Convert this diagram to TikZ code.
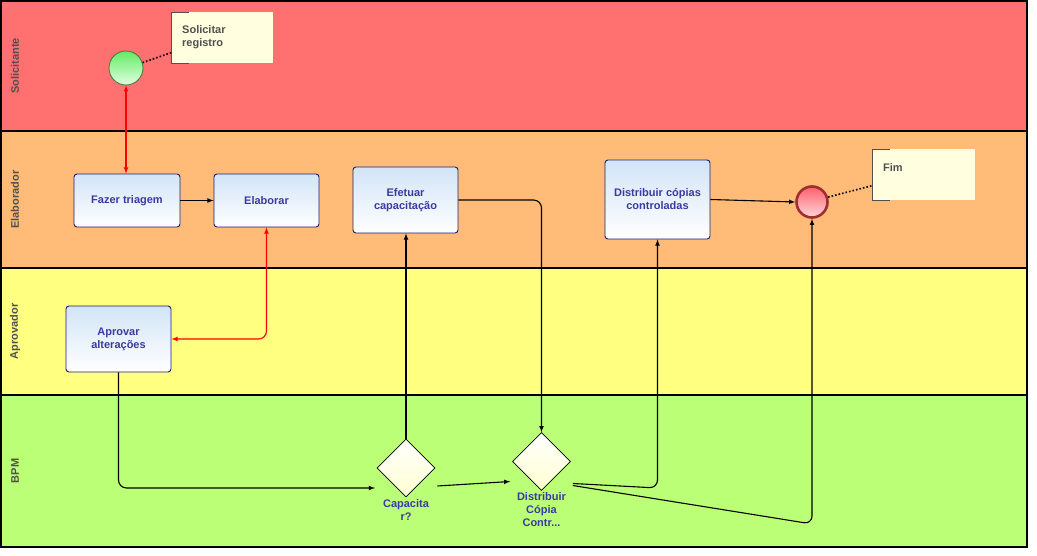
\documentclass[tikz,border=0pt]{standalone}
\usepackage{fontspec}
\setmainfont{Liberation Sans}
\usetikzlibrary{shapes.geometric}
\definecolor{laneRed}{RGB}{255,112,112}
\definecolor{laneOrange}{RGB}{255,187,119}
\definecolor{laneYellow}{RGB}{255,255,128}
\definecolor{laneGreen}{RGB}{187,255,119}
\definecolor{taskTop}{RGB}{210,228,247}
\definecolor{taskLine}{RGB}{30,30,110}
\definecolor{taskText}{RGB}{58,58,160}
\definecolor{noteFill}{RGB}{255,255,223}
\definecolor{greyText}{RGB}{80,80,80}
\definecolor{gateBottom}{RGB}{255,255,208}
\definecolor{startTop}{RGB}{100,235,100}
\definecolor{startLine}{RGB}{60,120,60}
\definecolor{endTop}{RGB}{255,95,110}
\definecolor{endLine}{RGB}{160,48,48}

\tikzset{
	task/.style={draw=taskLine, line width=0.9pt, rounded corners=3pt, top color=taskTop, bottom color=white, text=taskText, align=center, inner sep=0pt},
	gate/.style={diamond, draw=black, line width=0.6pt, top color=white, bottom color=gateBottom, minimum width=58pt, minimum height=58pt, inner sep=0pt},
	gatetext/.style={text=taskText, align=center, inner sep=0pt},
	note/.style={fill=noteFill, inner sep=0pt},
	notetext/.style={text=greyText, align=left, inner sep=0pt, anchor=north west},
	lanetext/.style={text=greyText, rotate=90},
	flow/.style={draw=black, line width=1.1pt, rounded corners=8pt, -latex},
	redflow/.style={draw=red, line width=1.1pt, rounded corners=8pt, latex-latex},
	assoc/.style={draw=black, line width=1.6pt, dotted}
}

\begin{document}
\begin{tikzpicture}[x=1pt, y=-1pt, font=\fontsize{11}{13}\selectfont\bfseries]
			%%%%% START %%%%%
			\useasboundingbox (0,0) rectangle (1037,556);
			
			% lanes
			\fill[laneRed] (1,1) rectangle (1027,131);
			\fill[laneOrange] (1,131) rectangle (1027,268);
			\fill[laneYellow] (1,268) rectangle (1027,395);
			\fill[laneGreen] (1,395) rectangle (1027,547);
			\draw[line width=1.2pt] (1,1) rectangle (1027,547);
			\draw[line width=1.2pt] (1,131) -- (1027,131);
			\draw[line width=1.2pt] (1,268) -- (1027,268);
			\draw[line width=1.2pt] (1,395) -- (1027,395);
			
			\node[lanetext] (lsolic) at (15,66) {Solicitante};
			\node[lanetext] (lelab) at (15,199.5) {Elaborador};
			\node[lanetext] (laprov) at (15,331.5) {Aprovador};
			\node[lanetext] (lbpm) at (15,471) {BPM};
			
			% events
			\node[circle, draw=startLine, line width=0.8pt, top color=startTop, bottom color=green!12, minimum size=34pt, inner sep=0pt] (start) at (126,68) {};
			\node[circle, draw=endLine, line width=2.6pt, top color=endTop, bottom color=red!15, minimum size=31pt, inner sep=0pt] (endev) at (812,202) {};
			
			% notes
			\node[note, minimum width=102pt, minimum height=51pt, anchor=north west] (nsolic) at (171,12) {};
			\draw[greyText, line width=0.8pt] ([shift={(18,0)}]nsolic.north west) -- (nsolic.north west) -- (nsolic.south west) -- ++(18,0);
			\node[notetext] (tsolic) at ([shift={(11,13)}]nsolic.north west) {Solicitar\\registro};
			
			\node[note, minimum width=103pt, minimum height=51pt, anchor=north west] (nfim) at (872,149) {};
			\draw[greyText, line width=0.8pt] ([shift={(18,0)}]nfim.north west) -- (nfim.north west) -- (nfim.south west) -- ++(18,0);
			\node[notetext] (tfim) at ([shift={(11,14)}]nfim.north west) {Fim};
			
			% tasks
			\node[task, minimum width=106pt, minimum height=53pt] (triagem) at (127,200.5) {Fazer triagem};
			\node[task, minimum width=105pt, minimum height=53pt] (elaborar) at (266.5,200.5) {Elaborar};
			\node[task, minimum width=105pt, minimum height=66pt] (efetuar) at (405.5,200) {Efetuar\\capacitação};
			\node[task, minimum width=105pt, minimum height=79pt] (distcop) at (657.5,199.5) {Distribuir cópias\\controladas};
			\node[task, minimum width=105pt, minimum height=66pt] (aprovar) at (118.5,339) {Aprovar\\alterações};
			
			% gateways
			\node[gate] (capacitar) at (406,468) {};
			\node[gatetext, anchor=north] (tcapacitar) at (406,499) {Capacita\\r?};
			\node[gate] (distgate) at (541.5,461.5) {};
			\node[gatetext, anchor=north] (tdistgate) at (541.5,492) {Distribuir\\Cópia\\Contr...};
			
			\coordinate (capin) at (375,488);
			\coordinate (bpmlow) at (0,524);
			
			% connectors
			\draw[assoc] (start.18) -- ([shift={(0,15)}]nsolic.west);
			\draw[assoc] (endev.17) -- ([shift={(0,11)}]nfim.west);
			
			\draw[redflow] (start.south) -- (start.south |- triagem.north);
			\draw[flow] (triagem.east) -- (elaborar.west);
			\draw[redflow] (elaborar.south) |- (aprovar.east);
			\draw[flow] (aprovar.south) |- (capin);
			\draw[flow] (capacitar.north) -- (capacitar.north |- efetuar.south);
			\draw[flow] ([shift={(2,18)}]capacitar.east) -- ([shift={(-2,20)}]distgate.west);
			\draw[flow] (efetuar.east) -| (distgate.north);
			\draw[flow] ([shift={(2,22)}]distgate.east) -- (distcop.south |- capin) -- (distcop.south);
			\draw[flow] ([shift={(2,24)}]distgate.east) -- (endev.south |- bpmlow) -- (endev.south);
			\draw[flow] (distcop.east) -- (endev.west);
			
			%%%%% END %%%%%
		\end{tikzpicture}
\end{document}
